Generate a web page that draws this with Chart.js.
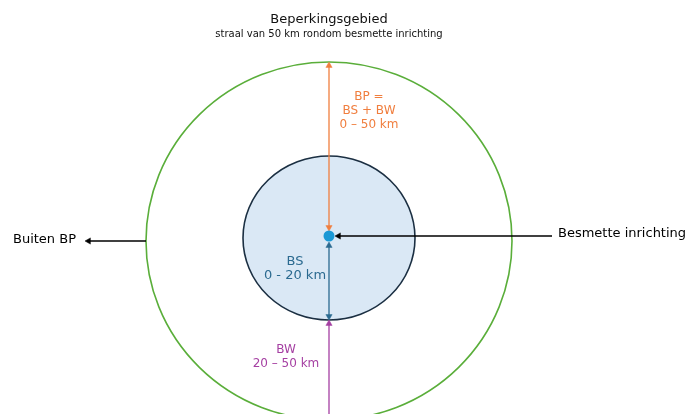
<!DOCTYPE html>
<html>

<head>
    <title>Beperkingsgebied</title>
    <script src="https://cdn.jsdelivr.net/npm/chart.js"></script>
    <style>
        body {
            margin: 0;
            background: #ffffff;
        }

        #zone-chart {
            display: block;
        }
    </style>
</head>

<body>
    <canvas id="zone-chart" width="689" height="414"></canvas>

    <script>
        // Gegevens
        const titleText = 'Beperkingsgebied';
        const subtitleText = 'straal van 50 km rondom besmette inrichting';
        const zoneNames = ['BP', 'BS', 'BW'];
        const zoneLines = [
            ['BP =', 'BS + BW', '0 – 50 km'],
            ['BS', '0 - 20 km'],
            ['BW', '20 – 50 km']
        ];
        const outsideLabel = 'Buiten BP';
        const sourceLabel = 'Besmette inrichting';

        // Kleuren per zone
        const zoneColors = { BP: '#f07e3e', BS: '#2b6a90', BW: '#a53fa2' };

        // Schema in schermcoördinaten (x: 0-689, y: 0-414)
        const cx = 329;
        const outer = { x: cx, y: 241, rx: 183, ry: 179 };
        const inner = { x: cx, y: 238, rx: 86, ry: 82 };
        const dot = { x: cx, y: 236 };
        const textPos = {
            BP: { x: 369, y: 97, size: 12 },
            BS: { x: 295, y: 262, size: 13 },
            BW: { x: 286, y: 350, size: 12 }
        };

        const headR = 3.6;

        // pijl: van (x1,y1) tot (x2,y2), met kop aan begin en/of eind
        function arrow(x1, y1, x2, y2, color, headStart, headEnd) {
            const dx = x2 - x1, dy = y2 - y1;
            const len = Math.hypot(dx, dy);
            const ux = dx / len, uy = dy / len;
            const ang = Math.atan2(ux, -uy) * 180 / Math.PI; // 0 = omhoog
            const p1 = headStart ? { x: x1 + ux * headR, y: y1 + uy * headR } : { x: x1, y: y1 };
            const p2 = headEnd ? { x: x2 - ux * headR, y: y2 - uy * headR } : { x: x2, y: y2 };
            return {
                type: 'line',
                data: [p1, p2],
                borderColor: color,
                borderWidth: 1.3,
                pointStyle: 'triangle',
                pointRadius: [headStart ? headR : 0, headEnd ? headR : 0],
                pointRotation: [ang + 180, ang],
                pointBackgroundColor: color,
                pointBorderColor: color,
                pointBorderWidth: 0.5,
                showLine: true,
                clip: false,
                order: 2
            };
        }

        const datasets = [
            arrow(cx, 231, cx, 62, zoneColors.BP, true, true),
            arrow(cx, 242, cx, 320, zoneColors.BS, true, true),
            arrow(cx, 420, cx, 320, zoneColors.BW, false, true),
            arrow(552, dot.y, 335, dot.y, '#000000', false, true),
            arrow(146, 241, 85, 241, '#000000', false, true),
            {
                type: 'scatter',
                data: [dot],
                pointRadius: 5.5,
                pointBackgroundColor: '#1a98d5',
                pointBorderWidth: 0,
                order: 1
            }
        ];

        const diagramPlugin = {
            id: 'diagram',
            beforeDatasetsDraw(chart) {
                const ctx = chart.ctx;
                const xs = chart.scales.x, ys = chart.scales.y;
                function ellipse(e, fill, stroke, w) {
                    const px = xs.getPixelForValue(e.x);
                    const py = ys.getPixelForValue(e.y);
                    const rx = Math.abs(xs.getPixelForValue(e.x + e.rx) - px);
                    const ry = Math.abs(ys.getPixelForValue(e.y + e.ry) - py);
                    ctx.beginPath();
                    ctx.ellipse(px, py, rx, ry, 0, 0, Math.PI * 2);
                    if (fill) {
                        ctx.fillStyle = fill;
                        ctx.fill();
                    }
                    ctx.lineWidth = w;
                    ctx.strokeStyle = stroke;
                    ctx.stroke();
                }
                ctx.save();
                ellipse(outer, null, '#5aae3a', 1.6);
                ellipse(inner, '#dae8f5', '#1b2f42', 1.6);
                ctx.restore();
            },
            afterDraw(chart) {
                const ctx = chart.ctx;
                const xs = chart.scales.x, ys = chart.scales.y;
                const X = v => xs.getPixelForValue(v);
                const Y = v => ys.getPixelForValue(v);
                ctx.save();
                ctx.textBaseline = 'middle';
                ctx.textAlign = 'center';
                ctx.fillStyle = '#111111';
                ctx.font = '13px "DejaVu Sans"';
                ctx.fillText(titleText, X(cx), Y(20));
                ctx.font = '10px "DejaVu Sans"';
                ctx.fillText(subtitleText, X(cx), Y(34));

                zoneNames.forEach((name, i) => {
                    const p = textPos[name];
                    ctx.fillStyle = zoneColors[name];
                    ctx.font = p.size + 'px "DejaVu Sans"';
                    zoneLines[i].forEach((line, j) => {
                        ctx.fillText(line, X(p.x), Y(p.y + j * 14));
                    });
                });

                ctx.textAlign = 'left';
                ctx.fillStyle = '#000000';
                ctx.font = '13px "DejaVu Sans"';
                ctx.fillText(outsideLabel, X(13), Y(240));
                ctx.fillText(sourceLabel, X(558), Y(234));
                ctx.restore();
            }
        };

        new Chart(document.getElementById('zone-chart'), {
            type: 'scatter',
            data: { datasets: datasets },
            options: {
                responsive: false,
                animation: false,
                devicePixelRatio: 1,
                layout: { padding: 0, autoPadding: false },
                plugins: {
                    legend: { display: false },
                    tooltip: { enabled: false }
                },
                scales: {
                    x: { type: 'linear', min: 0, max: 689, display: false },
                    y: { type: 'linear', min: 0, max: 414, reverse: true, display: false }
                }
            },
            plugins: [diagramPlugin]
        });
    </script>
</body>

</html>
